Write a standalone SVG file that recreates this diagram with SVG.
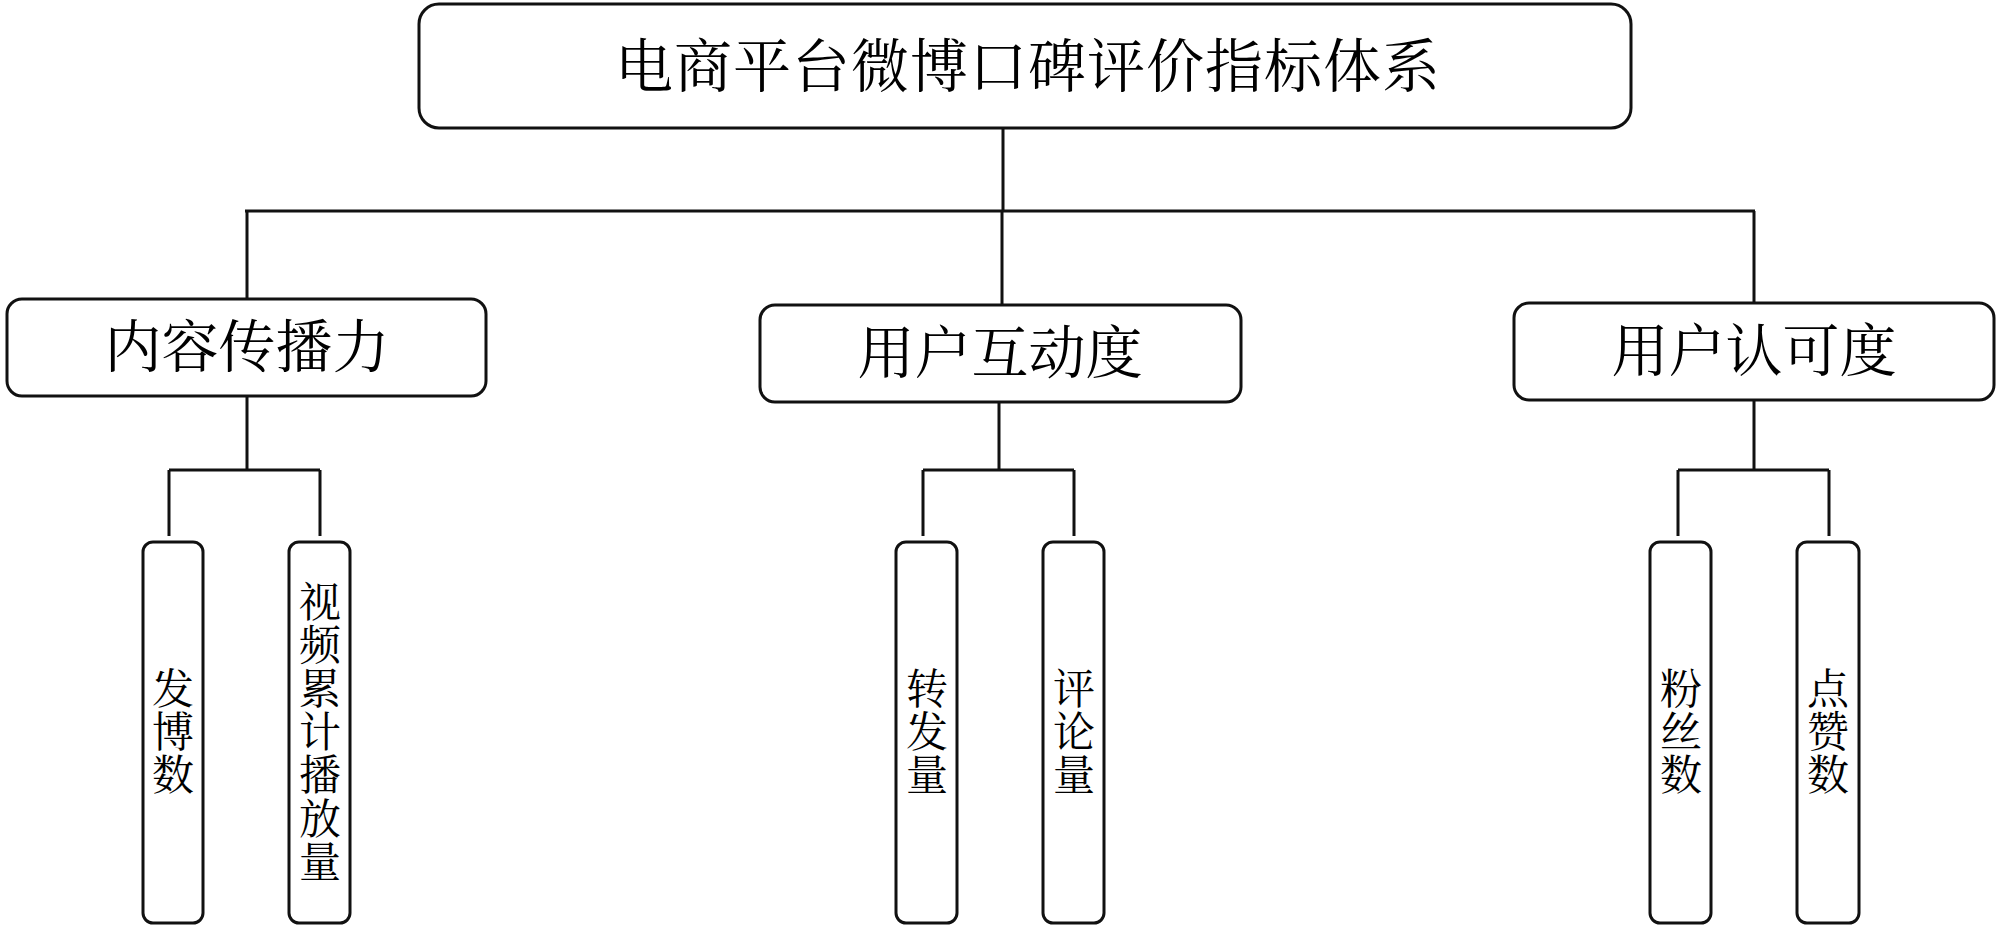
<svg xmlns="http://www.w3.org/2000/svg" width="2000" height="928" viewBox="0 0 2000 928">
<style>
.box{fill:#fff;stroke:#111;stroke-width:3}
.conn{fill:none;stroke:#111;stroke-width:3}
text{font-family:"Liberation Serif","Noto Serif CJK SC","Noto Sans CJK SC",serif;fill:#000;text-anchor:middle;dominant-baseline:central}
.t0{font-size:58px;letter-spacing:1px}
.t1{font-size:57px}
.t2{font-size:42px}
</style>
<rect width="2000" height="928" fill="#fff"/>
<g id="connectors">
<path class="conn" d="M1003 128V211M245 211H1755M247 211V299M1002 211V305M1754 211V303"/>
<path class="conn" d="M247 396V470M169 470H320M169 470V536M320 470V536"/>
<path class="conn" d="M999 402V470M923 470H1074M923 470V536M1074 470V536"/>
<path class="conn" d="M1754 400V470M1678 470H1829M1678 470V536M1829 470V536"/>
</g>
<g id="root">
<rect class="box" x="419" y="4" width="1212" height="124" rx="20"/>
<text class="t0" x="1028" y="67">电商平台微博口碑评价指标体系</text>
</g>
<g id="n1">
<rect class="box" x="7" y="299" width="479" height="97" rx="15"/>
<text class="t1" x="247" y="347">内容传播力</text>
</g>
<g id="n2">
<rect class="box" x="760" y="305" width="481" height="97" rx="15"/>
<text class="t1" x="1000" y="353">用户互动度</text>
</g>
<g id="n3">
<rect class="box" x="1514" y="303" width="480" height="97" rx="15"/>
<text class="t1" x="1754" y="351">用户认可度</text>
</g>
<g id="n1a">
<rect class="box" x="143" y="542" width="60" height="381" rx="10"/>
<text class="t2"><tspan x="173" y="690">发</tspan><tspan x="173" y="733">博</tspan><tspan x="173" y="776">数</tspan></text>
</g>
<g id="n1b">
<rect class="box" x="289" y="542" width="61" height="381" rx="10"/>
<text class="t2"><tspan x="320" y="603">视</tspan><tspan x="320" y="646">频</tspan><tspan x="320" y="690">累</tspan><tspan x="320" y="733">计</tspan><tspan x="320" y="776">播</tspan><tspan x="320" y="820">放</tspan><tspan x="320" y="863">量</tspan></text>
</g>
<g id="n2a">
<rect class="box" x="896" y="542" width="61" height="381" rx="10"/>
<text class="t2"><tspan x="927" y="690">转</tspan><tspan x="927" y="733">发</tspan><tspan x="927" y="776">量</tspan></text>
</g>
<g id="n2b">
<rect class="box" x="1043" y="542" width="61" height="381" rx="10"/>
<text class="t2"><tspan x="1074" y="690">评</tspan><tspan x="1074" y="733">论</tspan><tspan x="1074" y="776">量</tspan></text>
</g>
<g id="n3a">
<rect class="box" x="1650" y="542" width="61" height="381" rx="10"/>
<text class="t2"><tspan x="1681" y="690">粉</tspan><tspan x="1681" y="733">丝</tspan><tspan x="1681" y="776">数</tspan></text>
</g>
<g id="n3b">
<rect class="box" x="1797" y="542" width="62" height="381" rx="10"/>
<text class="t2"><tspan x="1828" y="690">点</tspan><tspan x="1828" y="733">赞</tspan><tspan x="1828" y="776">数</tspan></text>
</g>
</svg>
